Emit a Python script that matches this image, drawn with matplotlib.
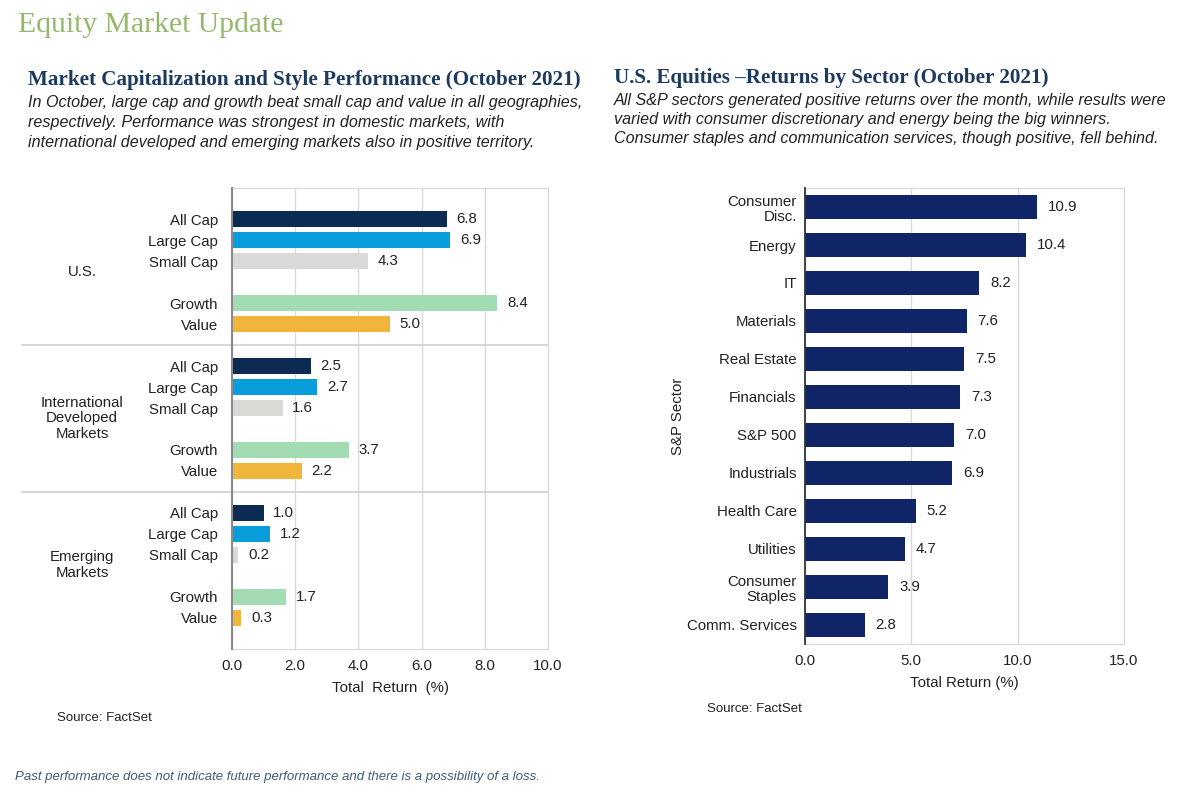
import matplotlib.pyplot as plt
import matplotlib.transforms as mtransforms

plt.rcParams['font.family'] = ['Liberation Sans', 'DejaVu Sans']

# left chart data
groups = ['U.S.', 'International\nDeveloped\nMarkets', 'Emerging\nMarkets']
styles = ['All Cap', 'Large Cap', 'Small Cap', 'Growth', 'Value']
us_vals = [6.8, 6.9, 4.3, 8.4, 5.0]
intl_vals = [2.5, 2.7, 1.6, 3.7, 2.2]
em_vals = [1.0, 1.2, 0.2, 1.7, 0.3]
style_colors = ['#0c2b52', '#0a9ddc', '#d9d9d6', '#a3dbb3', '#f0b53a']

# right chart data
sectors = ['Consumer\nDisc.', 'Energy', 'IT', 'Materials', 'Real Estate', 'Financials',
           'S&P 500', 'Industrials', 'Health Care', 'Utilities', 'Consumer\nStaples',
           'Comm. Services']
sector_vals = [10.9, 10.4, 8.2, 7.6, 7.5, 7.3, 7.0, 6.9, 5.2, 4.7, 3.9, 2.8]

W, H = 1200, 794
fig = plt.figure(figsize=(12, 7.94), dpi=100)


def px_axes(x0, y0, x1, y1):
    return fig.add_axes([x0 / W, 1 - y1 / H, (x1 - x0) / W, (y1 - y0) / H])


def ftext(x, y, s, **kw):
    fig.text(x / W, 1 - y / H, s, **kw)


# headings
ftext(18, 25, 'Equity Market Update', family='Liberation Serif', fontsize=21.3,
      color='#94b86b', va='center')
navy = '#1c3a5e'
ftext(28, 80, 'Market Capitalization and Style Performance (October 2021)',
      family='Liberation Serif', fontweight='bold', fontsize=15.2, color=navy, va='center')
ftext(614, 78, 'U.S. Equities \u2013Returns by Sector (October 2021)',
      family='Liberation Serif', fontweight='bold', fontsize=15.2, color=navy, va='center')
left_desc = ['In October, large cap and growth beat small cap and value in all geographies,',
             'respectively. Performance was strongest in domestic markets, with',
             'international developed and emerging markets also in positive territory.']
right_desc = ['All S&P sectors generated positive returns over the month, while results were',
              'varied with consumer discretionary and energy being the big winners.',
              'Consumer staples and communication services, though positive, fell behind.']
for i, line in enumerate(left_desc):
    ftext(28, 102 + i * 20, line, fontsize=11.6, style='italic', color='#222222', va='center')
for i, line in enumerate(right_desc):
    ftext(614, 100 + i * 19.5, line, fontsize=11.6, style='italic', color='#222222', va='center')

# ---- left chart
ax = px_axes(232, 188, 548, 649)
offsets = [0, 1, 2, 4, 5]
all_vals = [us_vals, intl_vals, em_vals]
ypos, ylabels = [], []
for g, vals in enumerate(all_vals):
    ys = [g * 7 + o for o in offsets]
    ax.barh(ys, vals, height=0.76, color=style_colors, zorder=3)
    for y, v in zip(ys, vals):
        ax.annotate(f'{v:.1f}', (v, y), xytext=(7, 0), textcoords='offset points',
                    va='center', ha='left', fontsize=10.8, color='#222222')
    ypos += ys
    ylabels += styles

ax.set_ylim(20.5, -1.5)
ax.set_xlim(0, 10)
ax.set_xticks([0, 2, 4, 6, 8, 10])
ax.set_xticklabels([f'{t:.1f}' for t in [0, 2, 4, 6, 8, 10]])
ax.set_yticks(ypos)
ax.set_yticklabels(ylabels)
ax.tick_params(axis='y', length=0, pad=10, labelsize=10.8, labelcolor='#222222')
ax.tick_params(axis='x', length=0, pad=7, labelsize=10.8, labelcolor='#222222')
ax.grid(axis='x', color='#d9d9d9', lw=1, zorder=0)
for s in ['top', 'right', 'bottom']:
    ax.spines[s].set_color('#d9d9d9')
ax.spines['left'].set_color('#8a8a8a')
ax.spines['left'].set_linewidth(1.5)
ax.spines['left'].set_zorder(4)
ax.set_xlabel('Total  Return  (%)', fontsize=10.8, color='#222222', labelpad=6)

trans = mtransforms.blended_transform_factory(ax.transAxes, ax.transData)
x_left = (22 - 232) / 316
for yb in [6, 13]:
    ax.plot([x_left, 1], [yb, yb], transform=trans, color='#d0d0d0', lw=1.2, clip_on=False)
for g, name in enumerate(groups):
    ax.text((82 - 232) / 316, g * 7 + 2.5, name, transform=trans, ha='center', va='center',
            fontsize=10.8, color='#222222', linespacing=1.15)

ftext(57, 718, 'Source: FactSet', fontsize=9.5, color='#222222', va='center')

# ---- right chart
ax2 = px_axes(805, 188, 1124, 644)
yr = list(range(len(sectors)))
ax2.barh(yr, sector_vals, height=0.61, color='#0f2568', zorder=3)
for y, v in zip(yr, sector_vals):
    ax2.annotate(f'{v:.1f}', (v, y), xytext=(8, 0), textcoords='offset points',
                 va='center', ha='left', fontsize=10.8, color='#222222')
ax2.set_ylim(11.5, -0.5)
ax2.set_xlim(0, 15)
ax2.set_xticks([0, 5, 10, 15])
ax2.set_xticklabels([f'{t:.1f}' for t in [0, 5, 10, 15]])
ax2.set_yticks(yr)
ax2.set_yticklabels(sectors, linespacing=1.1)
ax2.tick_params(axis='y', length=0, pad=6, labelsize=10.8, labelcolor='#222222')
ax2.tick_params(axis='x', length=0, pad=7, labelsize=10.8, labelcolor='#222222')
ax2.grid(axis='x', color='#d9d9d9', lw=1, zorder=0)
for s in ['top', 'right', 'bottom']:
    ax2.spines[s].set_color('#d9d9d9')
ax2.spines['left'].set_color('#333333')
ax2.spines['left'].set_linewidth(1.3)
ax2.spines['left'].set_zorder(4)
ax2.set_xlabel('Total Return (%)', fontsize=10.8, color='#222222', labelpad=6)
ax2.set_ylabel('S&P Sector', fontsize=10.8, color='#222222')
ax2.yaxis.set_label_coords((685 - 805) / 319, 0.5)

ftext(707, 709, 'Source: FactSet', fontsize=9.5, color='#222222', va='center')

ftext(15, 777, 'Past performance does not indicate future performance and there is a possibility of a loss.',
      fontsize=9.5, style='italic', color='#3d5c7c', va='center')

fig.savefig('out.png', dpi=100)
